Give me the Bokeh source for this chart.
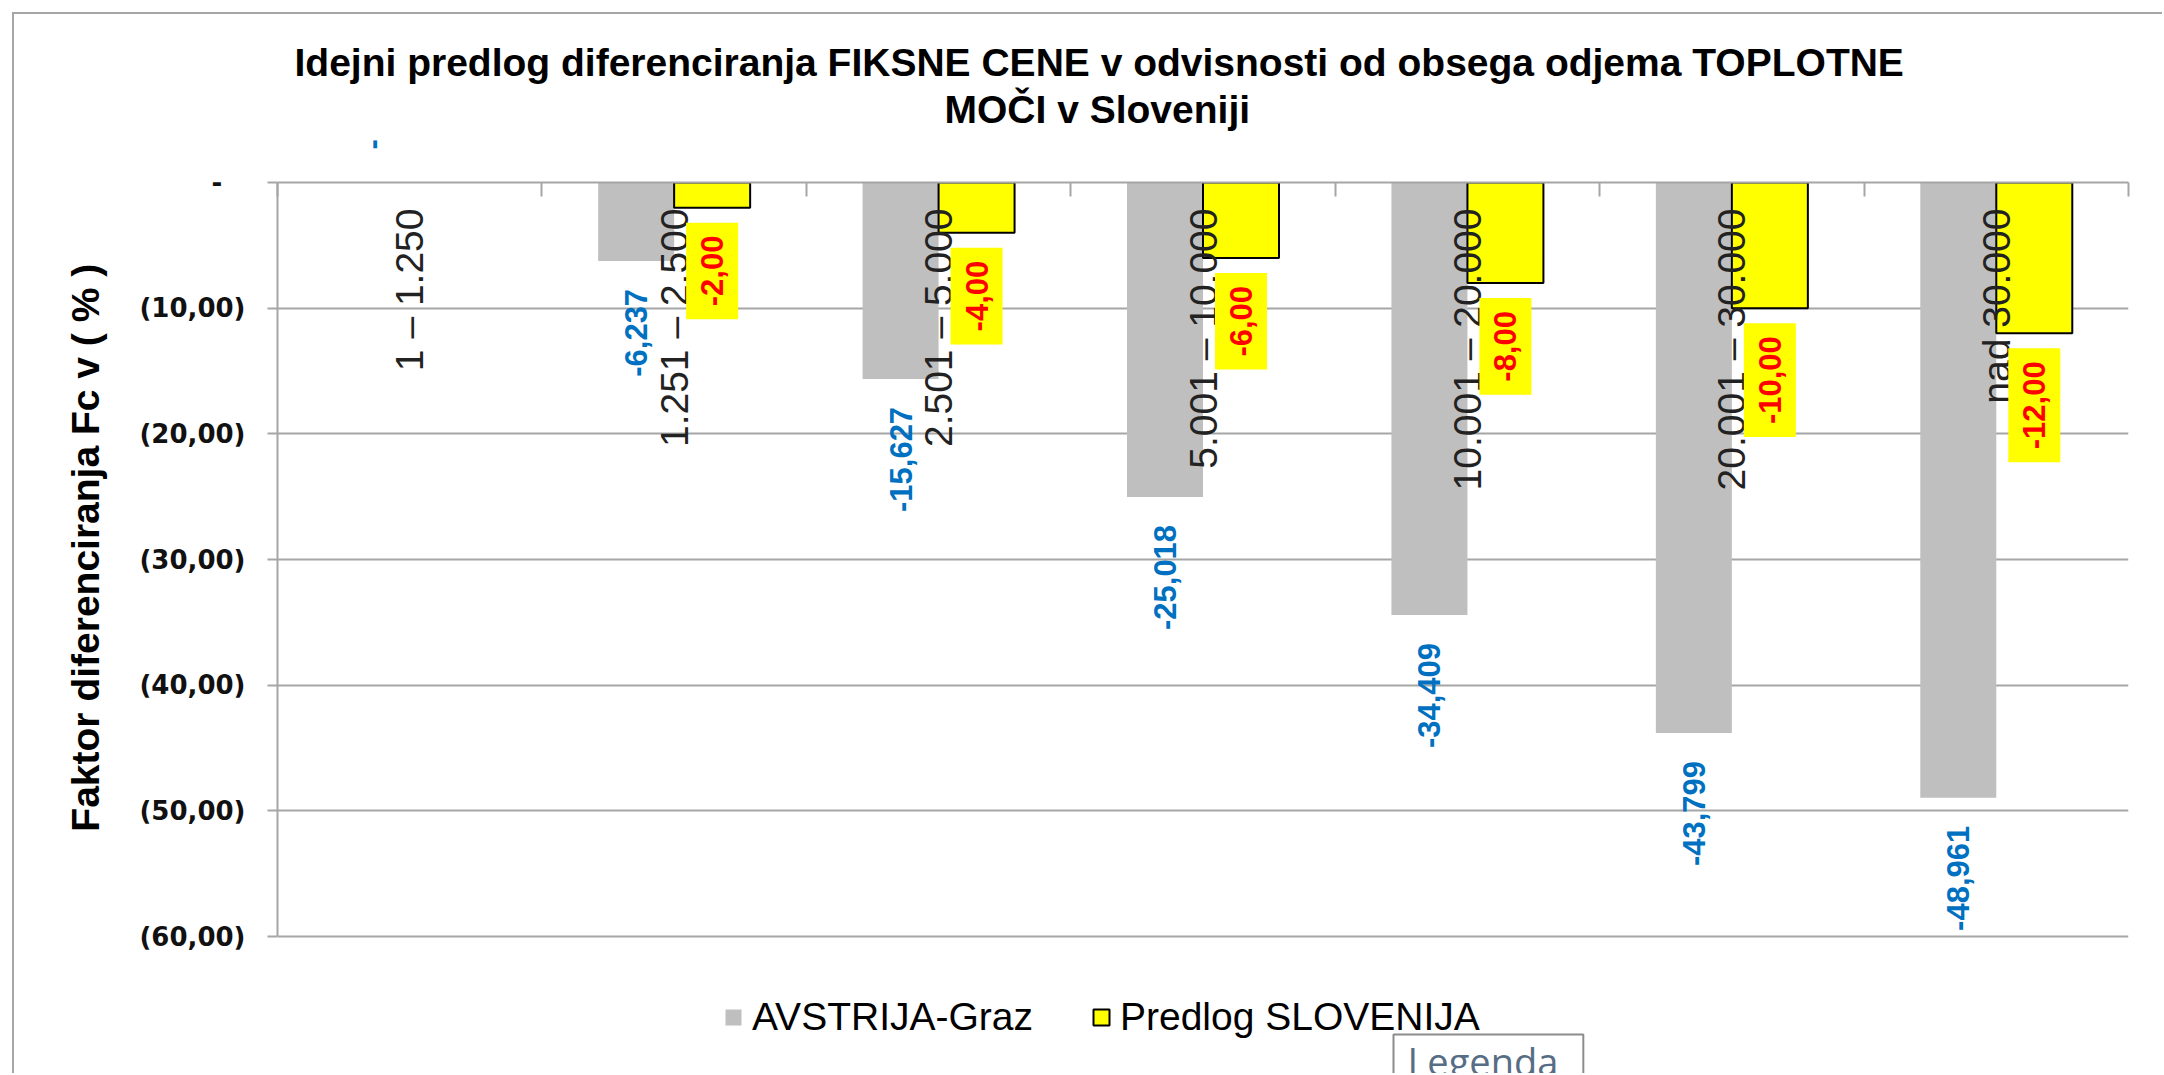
import math
from bokeh.plotting import figure
from bokeh.models import (Range1d, FixedTicker, ColumnDataSource, LabelSet, Label, Title,
                          Legend, LegendItem)
from bokeh.core.properties import value
from bokeh.embed import file_html
from bokeh.resources import INLINE

# ---------------- data ----------------
categories = ["1 \u2013 1.250", "1.251 \u2013 2.500", "2.501 \u2013 5.000", "5.001 \u2013 10.000",
              "10.001 \u2013 20.000", "20.001 \u2013 30.000", "nad 30.000"]
austria_graz = [0.0, -6.237, -15.627, -25.018, -34.409, -43.799, -48.961]
predlog_slovenija = [None, -2.00, -4.00, -6.00, -8.00, -10.00, -12.00]
series_names = ["AVSTRIJA-Graz", "Predlog SLOVENIJA"]
y_ticks = [0, -10, -20, -30, -40, -50, -60]
y_tick_labels = ["-\u00a0\u00a0\u2009", "(10,00)", "(20,00)", "(30,00)", "(40,00)", "(50,00)", "(60,00)"]
title_lines = ["Idejni predlog diferenciranja FIKSNE CENE v odvisnosti od obsega odjema TOPLOTNE",
               "MO\u010cI  v Sloveniji"]
y_title = "Faktor  diferenciranja Fc v ( % )"
tooltip_text = "Legenda"

# ---------------- layout ----------------
W, H = 2150, 1061
ML, MR, MT, MB = 263, 36, 168, 0
AX_H = 754                      # pixel height of the value axis (0 .. -60)
YMIN, YMAX = -60, 0
n = len(categories)
FW = W - ML - MR
FH = H - MT - MB
PPX = FW / n
PPY = AX_H / (YMAX - YMIN)
Y_LOW = YMAX - FH / PPY         # frame extends below the axis to hold the legend

GREY = "#bfbfbf"
YELLOW = "#ffff00"
GRID = "#a6a6a6"
BLUE = "#0070c0"


def fmt(v, d):
    if v == 0:
        return "-"
    return f"{v:.{d}f}".replace(".", ",")


p = figure(width=W, height=H, output_backend="svg", toolbar_location=None,
           x_range=Range1d(0, n), y_range=Range1d(Y_LOW, YMAX),
           x_axis_location="above",
           min_border_left=ML, min_border_right=MR, min_border_top=MT, min_border_bottom=MB,
           background_fill_color="white", border_fill_color="white")
p.outline_line_color = None
p.title.text = ""
p.styles = {"margin-left": "12px", "margin-top": "12px",
            "border-left": "2px solid #a6a6a6", "border-top": "2px solid #a6a6a6"}

# grid
p.xgrid.visible = False
p.ygrid.ticker = FixedTicker(ticks=y_ticks)
p.ygrid.grid_line_color = GRID
p.ygrid.grid_line_width = 2

# y axis
ya = p.yaxis[0]
ya.ticker = FixedTicker(ticks=y_ticks)
ya.bounds = (YMIN, YMAX)
ya.major_label_overrides = {t: lab for t, lab in zip(y_ticks, y_tick_labels)}
ya.axis_line_color = GRID
ya.axis_line_width = 2
ya.major_tick_line_color = GRID
ya.major_tick_line_width = 2
ya.major_tick_out = 10
ya.major_tick_in = 0
ya.minor_tick_line_color = None
ya.major_label_standoff = 22
ya.major_label_text_font = "DejaVu Sans"
ya.major_label_text_font_style = "bold"
ya.major_label_text_font_size = "26px"
ya.major_label_text_color = "#111111"
# leading no-break spaces lift the label so it is centred on the value axis, not the whole frame
ya.axis_label = "\u00a0" * 16 + y_title
ya.axis_label_text_font = "Liberation Sans"
ya.axis_label_text_font_style = "bold"
ya.axis_label_text_font_size = "39px"
ya.axis_label_text_color = "#000000"
ya.axis_label_standoff = 29

# bar geometry
BAR_W = 76 / PPX
zero_label_x = round(0.5 - BAR_W / 2, 3)

# x axis (top): category boundaries as minor ticks, zero-value data label as major label
xa = p.xaxis[0]
xa.ticker = FixedTicker(ticks=[zero_label_x], minor_ticks=list(range(n + 1)))
xa.axis_line_color = GRID
xa.axis_line_width = 2
xa.major_tick_line_color = None
xa.major_tick_in = 0
xa.major_tick_out = 0
xa.minor_tick_line_color = GRID
xa.minor_tick_line_width = 2
xa.minor_tick_in = 14
xa.minor_tick_out = 0
xa.major_label_overrides = {zero_label_x: fmt(austria_graz[0], 3)}
xa.major_label_orientation = math.pi / 2
xa.major_label_standoff = 33
xa.major_label_text_font = "Liberation Sans"
xa.major_label_text_font_style = "bold"
xa.major_label_text_font_size = "31px"
xa.major_label_text_color = BLUE

# bars
a_src = ColumnDataSource(dict(
    x=[i + 0.5 - BAR_W / 2 for i in range(n)],
    top=[0] * n,
    bottom=austria_graz,
    lab=[fmt(v, 3) if v < 0 else "" for v in austria_graz],
    ly=[v - 28 / PPY for v in austria_graz],
))
s_idx = [i for i, v in enumerate(predlog_slovenija) if v is not None]
s_src = ColumnDataSource(dict(
    x=[i + 0.5 + BAR_W / 2 for i in s_idx],
    top=[0] * len(s_idx),
    bottom=[predlog_slovenija[i] for i in s_idx],
    lab=[fmt(predlog_slovenija[i], 2) for i in s_idx],
    ly=[predlog_slovenija[i] - 15 / PPY for i in s_idx],
))

ra = p.vbar(x="x", top="top", bottom="bottom", width=BAR_W, source=a_src,
            fill_color=GREY, line_color=None)
rs = p.vbar(x="x", top="top", bottom="bottom", width=BAR_W, source=s_src,
            fill_color=YELLOW, line_color="black", line_width=2)

# category labels (rotated, inside plot)
c_src = ColumnDataSource(dict(x=[i + 0.5 for i in range(n)], y=[-26 / PPY] * n, t=categories))
p.text(x="x", y="y", text="t", source=c_src, angle=math.pi / 2,
       text_align="right", text_baseline="middle",
       text_font=value("Liberation Sans"), text_font_size="39px", text_color="#222222")

# red data labels with yellow boxes
p.text(x="x", y="ly", text="lab", source=s_src, angle=math.pi / 2,
       text_align="right", text_baseline="middle",
       text_font=value("Liberation Sans"), text_font_style="bold", text_font_size="31px",
       text_color="#ff0000", background_fill_color=YELLOW,
       padding=dict(left=13, right=13, top=15, bottom=15))

# blue data labels
p.add_layout(LabelSet(x="x", y="ly", text="lab", source=a_src, angle=math.pi / 2,
                      text_align="right", text_baseline="middle",
                      text_font=value("Liberation Sans"), text_font_style="bold",
                      text_font_size="31px", text_color=BLUE))

# title (two lines, stacked above the top axis)
p.add_layout(Title(text=title_lines[1], align="left", offset=667, vertical_align="top",
                   standoff=8, text_font="Liberation Sans", text_font_style="bold",
                   text_font_size="39px", text_color="#000000"), "above")
p.add_layout(Title(text=title_lines[0], align="left", offset=17, vertical_align="bottom",
                   standoff=0, text_font="Liberation Sans", text_font_style="bold",
                   text_font_size="39px", text_color="#000000"), "above")

# legend (in the lower, axis-free part of the frame)
legend = Legend(items=[LegendItem(label=series_names[0], renderers=[ra]),
                       LegendItem(label=series_names[1], renderers=[rs])],
                orientation="horizontal", location=(446, 36), margin=0,
                glyph_width=20, glyph_height=20, label_standoff=9, spacing=58,
                padding=0, border_line_color=None, background_fill_alpha=0,
                label_text_font="Liberation Sans", label_text_font_size="39px",
                label_text_color="#000000")
p.add_layout(legend)

# "Legenda" tooltip box
p.add_layout(Label(x=(1393 - 277) / PPX, y=YMAX - (1070 - 182) / PPY, text=tooltip_text,
                   text_align="left", text_baseline="alphabetic", text_font="Open Sans",
                   text_font_size="38px", text_color="#566d85",
                   background_fill_color="white", border_line_color="#8c8c8c",
                   border_line_width=2, padding=dict(left=14, right=25, top=0, bottom=20)))

open("out.html", "w").write(file_html(p, INLINE))
